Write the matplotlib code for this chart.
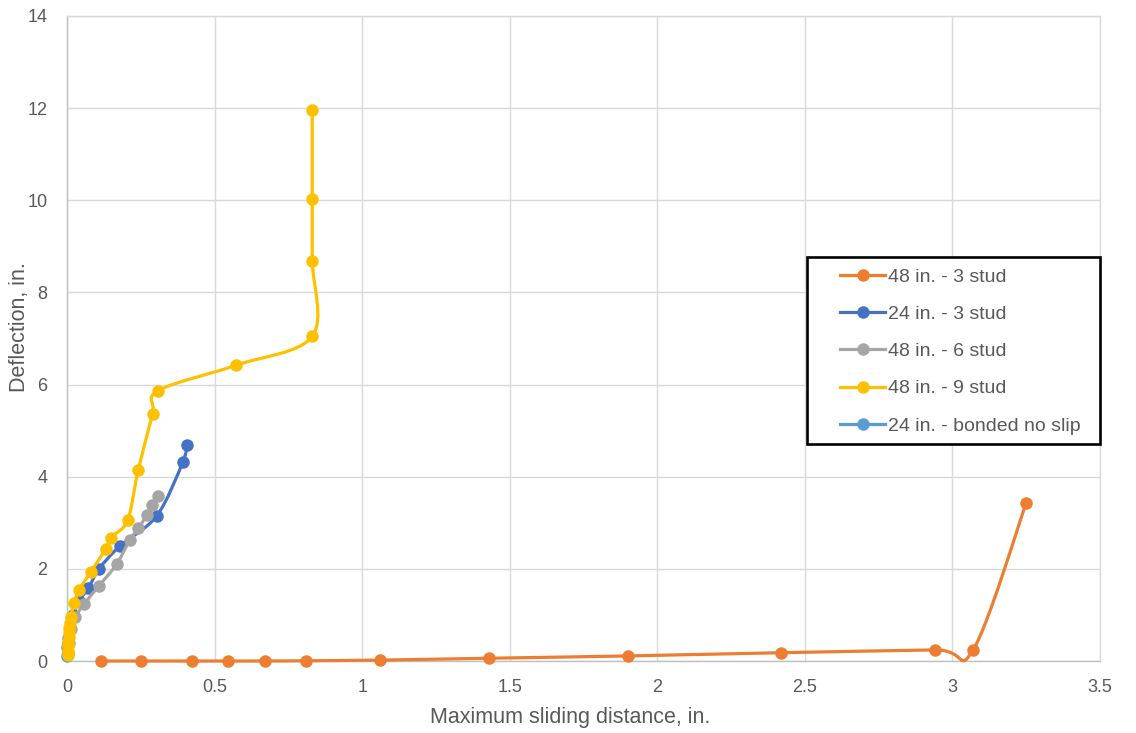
import numpy as np
import matplotlib
matplotlib.use("Agg")
import matplotlib.pyplot as plt
from matplotlib.path import Path
from matplotlib.patches import PathPatch, Rectangle
from matplotlib.lines import Line2D

plt.rcParams['font.family'] = ['Liberation Sans', 'DejaVu Sans']

# ---- data ----
names = ["48 in. - 3 stud", "24 in. - 3 stud", "48 in. - 6 stud",
         "48 in. - 9 stud", "24 in. - bonded no slip"]
colors = ["#ED7D31", "#4472C4", "#A5A5A5", "#FFC000", "#5B9BD5"]

x_48_3 = [0.114, 0.250, 0.422, 0.544, 0.670, 0.810, 1.060, 1.430, 1.900, 2.420, 2.940, 3.070, 3.250]
y_48_3 = [0.00, 0.00, 0.00, 0.00, 0.00, 0.005, 0.02, 0.06, 0.11, 0.18, 0.24, 0.24, 3.43]

x_24_3 = [0.002, 0.005, 0.010, 0.020, 0.040, 0.072, 0.109, 0.180, 0.304, 0.392, 0.405]
y_24_3 = [0.15, 0.40, 0.70, 1.00, 1.30, 1.58, 2.00, 2.50, 3.15, 4.31, 4.69]

x_48_6 = [0.003, 0.006, 0.012, 0.027, 0.058, 0.108, 0.168, 0.213, 0.242, 0.270, 0.287, 0.309]
y_48_6 = [0.15, 0.40, 0.70, 0.95, 1.24, 1.63, 2.10, 2.63, 2.88, 3.17, 3.39, 3.59]

x_48_9 = [0.002, 0.003, 0.004, 0.005, 0.006, 0.007, 0.008, 0.010, 0.013, 0.024, 0.042,
          0.080, 0.131, 0.148, 0.205, 0.241, 0.290, 0.309, 0.573, 0.831, 0.831, 0.831, 0.831]
y_48_9 = [0.12, 0.22, 0.32, 0.42, 0.52, 0.62, 0.72, 0.82, 0.95, 1.25, 1.55,
          1.93, 2.43, 2.68, 3.05, 4.14, 5.36, 5.87, 6.42, 7.05, 8.69, 10.03, 11.96]

x_24_b = [0.000, 0.001, 0.002]
y_24_b = [0.10, 0.30, 0.50]

series = [(x_48_3, y_48_3), (x_24_3, y_24_3), (x_48_6, y_48_6),
          (x_48_9, y_48_9), (x_24_b, y_24_b)]

x_ticks = [0, 0.5, 1, 1.5, 2, 2.5, 3, 3.5]
x_tick_labels = ["0", "0.5", "1", "1.5", "2", "2.5", "3", "3.5"]
y_ticks = [0, 2, 4, 6, 8, 10, 12, 14]

W, H = 1136, 733
AX_L, AX_R, AX_T, AX_B = 67, 1100, 16, 661


def smooth_path(x, y):
    p = np.column_stack([x, y]).astype(float)
    n = len(p)
    verts = [p[0]]
    codes = [Path.MOVETO]
    for i in range(n - 1):
        p0 = p[i - 1] if i > 0 else p[i]
        p1 = p[i]
        p2 = p[i + 1]
        p3 = p[i + 2] if i + 2 < n else p[i + 1]
        c1 = p1 + (p2 - p0) / 6.0
        c2 = p2 - (p3 - p1) / 6.0
        verts += [c1, c2, p2]
        codes += [Path.CURVE4] * 3
    return Path(verts, codes)


fig = plt.figure(figsize=(W / 100, H / 100), dpi=100)
ax = fig.add_axes([AX_L / W, (H - AX_B) / H, (AX_R - AX_L) / W, (AX_B - AX_T) / H])

LW = 2.3
MS = 9
zorders = [3, 4, 5, 7, 6]
for (xs, ys), c, z in zip(series, colors, zorders):
    patch = PathPatch(smooth_path(xs, ys), facecolor='none', edgecolor=c,
                      lw=LW, zorder=z, capstyle='round', joinstyle='round',
                      clip_on=False)
    ax.add_patch(patch)
    ax.plot(xs, ys, ls='none', marker='o', ms=MS, color=c, zorder=z + 0.5,
            markeredgewidth=0, clip_on=False)

ax.set_xlim(0, 3.5)
ax.set_ylim(0, 14)
ax.set_xticks(x_ticks)
ax.set_xticklabels(x_tick_labels)
ax.set_yticks(y_ticks)
ax.grid(True, color="#D9D9D9", lw=1.0, zorder=0)
ax.set_axisbelow(True)
for s in ['top', 'right']:
    ax.spines[s].set_color("#D9D9D9")
for s in ['left', 'bottom']:
    ax.spines[s].set_color("#BFBFBF")
for s in ax.spines.values():
    s.set_linewidth(1.0)
ax.tick_params(axis='both', length=0, labelsize=13, colors="#595959")
ax.tick_params(axis='x', pad=13)
ax.tick_params(axis='y', pad=14)
ax.set_xlabel("Maximum sliding distance, in.", fontsize=15.5, color="#595959",
              va='center')
ax.set_ylabel("Deflection, in.", fontsize=15.5, color="#595959", va='center')
ax.xaxis.set_label_coords((570 - AX_L) / (AX_R - AX_L), (AX_B - 718) / (AX_B - AX_T))
ax.yaxis.set_label_coords((20 - AX_L) / (AX_R - AX_L), (AX_B - 327) / (AX_B - AX_T))

# legend frame (drawn in figure pixels)
frame = Rectangle((807 / W, (H - 444) / H), (1100 - 807) / W, (444 - 257) / H,
                  transform=fig.transFigure, facecolor='white', edgecolor='black',
                  lw=1.9, zorder=10)
fig.add_artist(frame)

handles = [Line2D([0], [0], color=c, lw=LW, marker='o', ms=MS, markeredgewidth=0)
           for c in colors]
fs = 14
em = fs * 100 / 72
leg = fig.legend(handles, names, loc='upper left',
                 bbox_to_anchor=(840 / W, (H - 268) / H),
                 fontsize=fs, frameon=False,
                 handlelength=45 / em, handletextpad=3 / em, labelspacing=1.01,
                 borderpad=0, borderaxespad=0)
leg.set_zorder(11)
for t in leg.get_texts():
    t.set_color("#595959")

fig.savefig("out.png", dpi=100)
